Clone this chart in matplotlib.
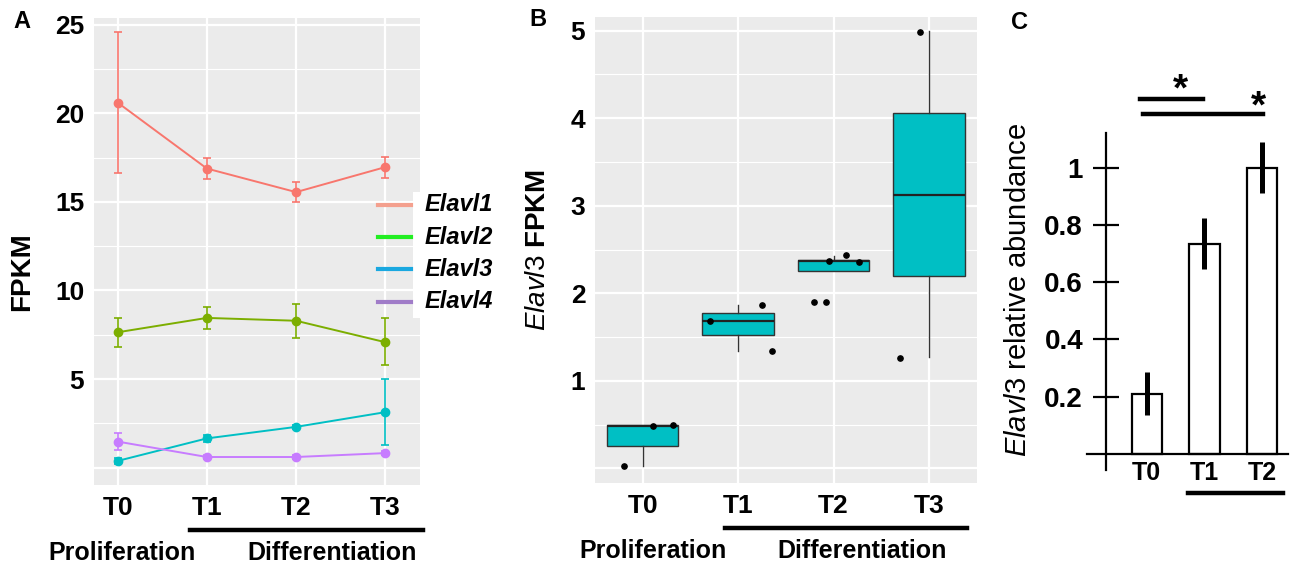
import matplotlib
matplotlib.use("Agg")
import matplotlib.pyplot as plt
from matplotlib.lines import Line2D
from matplotlib.patches import Rectangle

plt.rcParams['font.family'] = ['Liberation Sans', 'DejaVu Sans']
plt.rcParams['mathtext.fontset'] = 'custom'
plt.rcParams['mathtext.it'] = 'Liberation Sans:italic'
plt.rcParams['mathtext.rm'] = 'Liberation Sans'

W, H = 1300, 572

def fx(px):
    return px / W

def fy(py):
    return 1 - py / H

# ---- panel A data: mean FPKM with lower / upper bars
times = ['T0', 'T1', 'T2', 'T3']
genes = ['Elavl1', 'Elavl2', 'Elavl3', 'Elavl4']
elavl1_mean = [20.6, 16.88, 15.55, 16.96]
elavl1_lo = [16.65, 16.30, 14.97, 16.36]
elavl1_hi = [24.6, 17.45, 16.13, 17.54]
elavl2_mean = [7.64, 8.45, 8.29, 7.08]
elavl2_lo = [6.83, 7.83, 7.31, 5.78]
elavl2_hi = [8.47, 9.05, 9.26, 8.43]
elavl3_mean = [0.38, 1.65, 2.30, 3.13]
elavl3_lo = [0.20, 1.47, 2.18, 1.27]
elavl3_hi = [0.56, 1.83, 2.42, 4.99]
elavl4_mean = [1.47, 0.60, 0.60, 0.82]
elavl4_lo = [1.00, 0.48, 0.48, 0.70]
elavl4_hi = [1.94, 0.72, 0.72, 0.94]
line_colors = ['#F8766D', '#7CAE00', '#00BFC4', '#C77CFF']
legend_colors = ['#F4A08E', '#22EE22', '#1AA8E0', '#A07CC8']

# ---- panel B data: Elavl3 box stats and replicate points
b_q1 = [0.26, 1.52, 2.25, 2.20]
b_med = [0.49, 1.68, 2.37, 3.12]
b_q3 = [0.495, 1.78, 2.385, 4.055]
b_lo = [0.03, 1.34, 2.25, 1.27]
b_hi = [0.50, 1.87, 2.43, 5.00]
pt_group = [0, 0, 0, 1, 1, 1, 2, 2, 2, 2, 2, 3, 3]
pt_jitter = [-0.20, 0.11, 0.32, -0.29, 0.25, 0.35, -0.20, -0.08, -0.05, 0.13, 0.27, -0.30, -0.09]
pt_value = [0.03, 0.49, 0.50, 1.68, 1.87, 1.34, 1.90, 1.90, 2.37, 2.44, 2.36, 1.26, 4.99]

# ---- panel C data: qPCR relative abundance
c_times = ['T0', 'T1', 'T2']
c_mean = [0.21, 0.735, 1.0]
c_err = [0.075, 0.088, 0.09]

fig = plt.figure(figsize=(13, 5.72), dpi=100)

def gg_style(ax, ymajor, yminor, ylabels):
    ax.set_facecolor('#EBEBEB')
    for s in ax.spines.values():
        s.set_visible(False)
    ax.set_yticks(ymajor)
    ax.set_yticklabels(ylabels)
    ax.set_yticks(yminor, minor=True)
    ax.grid(True, which='major', color='white', linewidth=1.6)
    ax.grid(True, which='minor', axis='y', color='white', linewidth=0.8)
    ax.set_axisbelow(True)
    ax.tick_params(which='both', length=0)
    ax.tick_params(axis='y', labelsize=19, pad=7)
    ax.tick_params(axis='x', labelsize=19, pad=8)
    for lab in ax.get_xticklabels() + ax.get_yticklabels():
        lab.set_fontweight('bold')

# ================= panel A
axA = fig.add_axes([fx(94), fy(485), fx(420) - fx(94), fy(18.3) - fy(485)])
xs = [1, 2, 3, 4]
series = [(elavl1_mean, elavl1_lo, elavl1_hi),
          (elavl2_mean, elavl2_lo, elavl2_hi),
          (elavl3_mean, elavl3_lo, elavl3_hi),
          (elavl4_mean, elavl4_lo, elavl4_hi)]
for (m, lo, hi), col in zip(series, line_colors):
    yerr = [[a - b for a, b in zip(m, lo)], [b - a for a, b in zip(m, hi)]]
    axA.errorbar(xs, m, yerr=yerr, fmt='o-', color=col, ms=6, lw=1.4,
                 elinewidth=1.2, capsize=2.6, capthick=1.2)
axA.set_xlim(0.734, 4.39)
axA.set_ylim(-0.98, 25.36)
axA.set_xticks(xs)
axA.set_xticklabels(times)
gg_style(axA, [0, 5, 10, 15, 20, 25], [2.5, 7.5, 12.5, 17.5, 22.5],
         ['', '5', '10', '15', '20', '25'])
fig.text(fx(22), fy(272), 'FPKM', rotation=90, ha='center', va='center',
         fontsize=20, fontweight='bold')

# legend (overlapping the panel edge, as in the reference)
fig.patches.append(Rectangle((fx(412.7), fy(318)), fx(505) - fx(412.7), fy(192) - fy(318),
                             transform=fig.transFigure, facecolor='white',
                             edgecolor='none', zorder=5))
for i, (g, c) in enumerate(zip(genes, legend_colors)):
    yy = 205 + i * 32.2
    fig.lines.append(Line2D([fx(378), fx(411)], [fy(yy), fy(yy)], transform=fig.transFigure,
                            color=c, lw=3, zorder=6))
    fig.text(fx(425), fy(yy), g, ha='left', va='center', fontsize=17,
             fontweight='bold', fontstyle='italic', zorder=7)

# ================= panel B
axB = fig.add_axes([fx(595), fy(483.3), fx(976.7) - fx(595), fy(16.7) - fy(483.3)])
stats = []
for q1, med, q3, lo, hi in zip(b_q1, b_med, b_q3, b_lo, b_hi):
    stats.append({'q1': q1, 'med': med, 'q3': q3, 'whislo': lo, 'whishi': hi, 'fliers': []})
axB.bxp(stats, positions=xs, widths=0.75, patch_artist=True, showcaps=False,
        boxprops=dict(facecolor='#00BFC4', edgecolor='#333333', linewidth=1.0),
        medianprops=dict(color='#222222', linewidth=1.6),
        whiskerprops=dict(color='#333333', linewidth=1.0))
px = [xs[g] + j for g, j in zip(pt_group, pt_jitter)]
axB.plot(px, pt_value, 'o', color='black', ms=3.8, zorder=4)
axB.set_xlim(0.5, 4.5)
axB.set_ylim(-0.17, 5.16)
axB.set_xticks(xs)
axB.set_xticklabels(times)
gg_style(axB, [0, 1, 2, 3, 4, 5], [0.5, 1.5, 2.5, 3.5, 4.5],
         ['', '1', '2', '3', '4', '5'])
fig.text(fx(538), fy(250), r'$\it{Elavl3}$ FPKM', rotation=90, ha='center', va='center',
         fontsize=20, fontweight='bold')

# time-course annotations under A and B
for (l0, l1, ly, pcx, dcx, ty) in [(190, 423.3, 530, 121.7, 331.7, 553),
                                   (725, 966.7, 528, 653.3, 861.7, 551)]:
    fig.lines.append(Line2D([fx(l0), fx(l1)], [fy(ly), fy(ly)], transform=fig.transFigure,
                            color='black', lw=3.2))
    fig.text(fx(pcx), fy(ty), 'Proliferation', ha='center', va='center',
             fontsize=18, fontweight='bold')
    fig.text(fx(dcx), fy(ty), 'Differentiation', ha='center', va='center',
             fontsize=18, fontweight='bold')

# ================= panel C
axC = fig.add_axes([fx(1086.7), fy(470), fx(1288.3) - fx(1086.7), fy(132.7) - fy(470)])
cx = [1, 2, 3]
axC.bar(cx, c_mean, width=0.52, color='white', edgecolor='black', linewidth=1.6, zorder=2)
axC.errorbar(cx, c_mean, yerr=c_err, fmt='none', ecolor='black', elinewidth=3.6,
             capsize=0, zorder=3)
axC.set_xlim(-0.038, 3.45)
axC.set_ylim(-0.056, 1.122)
axC.spines['top'].set_visible(False)
axC.spines['right'].set_visible(False)
axC.spines['left'].set_position(('data', 0.296))
axC.spines['bottom'].set_position(('data', 0))
axC.spines['left'].set_linewidth(1.6)
axC.spines['bottom'].set_linewidth(1.6)
axC.set_yticks([0.2, 0.4, 0.6, 0.8, 1.0])
axC.set_yticklabels(['0.2', '0.4', '0.6', '0.8', '1'])
axC.set_xticks(cx)
axC.set_xticklabels(c_times)
axC.tick_params(axis='y', direction='inout', length=19, width=1.6, labelsize=20, pad=7)
axC.tick_params(axis='x', length=0, labelsize=18, pad=5)
for lab in axC.get_xticklabels() + axC.get_yticklabels():
    lab.set_fontweight('bold')
fig.text(fx(1018), fy(290), r'$\it{Elavl3}$ relative abundance', rotation=90,
         ha='center', va='center', fontsize=21)

# significance bars
axC.plot([0.885, 1.98], [1.241, 1.241], color='black', lw=3.2, clip_on=False)
axC.plot([0.93, 3.02], [1.187, 1.187], color='black', lw=3.2, clip_on=False)
axC.text(1.576, 1.27, '*', ha='center', va='center', fontsize=28, fontweight='bold')
axC.text(2.93, 1.21, '*', ha='center', va='center', fontsize=28, fontweight='bold')
axC.plot([1.71, 3.35], [-0.137, -0.137], color='black', lw=3.2, clip_on=False)

# panel letters
for letter, lx, ly in [('A', 22, 21), ('B', 537.5, 20), ('C', 1019, 22.5)]:
    fig.text(fx(lx), fy(ly), letter, ha='center', va='center', fontsize=17, fontweight='bold')

fig.savefig('out.png', dpi=100)
